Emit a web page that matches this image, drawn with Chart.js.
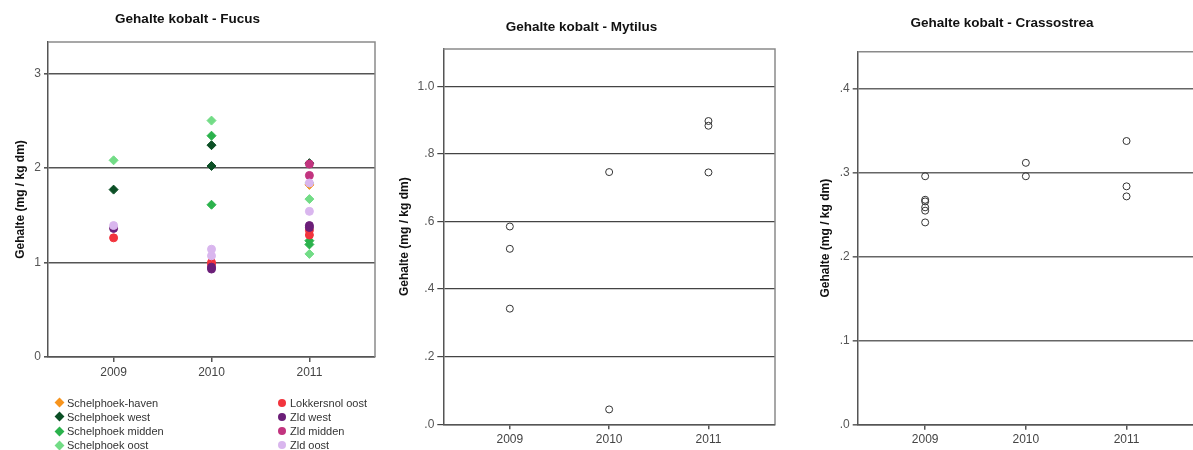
<!DOCTYPE html>
<html>
<head>
<meta charset="utf-8">
<script src="https://cdn.jsdelivr.net/npm/chart.js@4.4.1/dist/chart.umd.min.js"></script>
<style>
  body { margin: 0; width: 1193px; height: 450px; overflow: hidden; background: #fff; position: relative;
         font-family: "Liberation Sans", Arial, sans-serif; }
  canvas { position: absolute; top: 0; }
  #fucusChart { left: 0; }
  #mytilusChart { left: 388px; }
  #crassChart { left: 810px; }
  .lg-text { position: absolute; font-size: 11px; line-height: 14px; color: #333; white-space: nowrap; }
  .lg-mark { position: absolute; }
</style>
</head>
<body>
<canvas id="fucusChart" width="392" height="450"></canvas>
<canvas id="mytilusChart" width="400" height="450"></canvas>
<canvas id="crassChart" width="396" height="450"></canvas>
<div id="fucusLegend"></div>

<script>
// jaren (x-as)
const years = [2009, 2010, 2011];

// Fucus: waarden per jaar, per locatie
const fucusSeries = ["Schelphoek-haven", "Schelphoek west", "Schelphoek midden", "Schelphoek oost",
                     "Lokkersnol oost", "Zld west", "Zld midden", "Zld oost"];
const schelphoekHaven  = [[], [], [1.82]];
const schelphoekWest   = [[1.77], [2.24, 2.02], [2.05]];
const schelphoekMidden = [[], [2.34, 1.61], [1.23, 1.19]];
const schelphoekOost   = [[2.08], [2.50], [1.84, 1.67, 1.09]];
const lokkersnolOost   = [[1.26], [1.00, 0.98], [1.34, 1.29]];
const zldWest          = [[1.36], [0.95, 0.93], [1.39, 1.37]];
const zldMidden        = [[], [], [2.04, 1.92]];
const zldOost          = [[1.39], [1.14, 1.07], [1.84, 1.54]];
const fucusValues = [schelphoekHaven, schelphoekWest, schelphoekMidden, schelphoekOost,
                     lokkersnolOost, zldWest, zldMidden, zldOost];
const fucusTicks = [0, 1, 2, 3];
const fucusTickLabels = ["0", "1", "2", "3"];

// Mytilus
const mytilusValues = [[0.585, 0.519, 0.342], [0.746, 0.044], [0.897, 0.883, 0.745]];
const mytilusTicks = [0, 0.2, 0.4, 0.6, 0.8, 1.0];
const mytilusTickLabels = [".0", ".2", ".4", ".6", ".8", "1.0"];

// Crassostrea
const crassValues = [[0.296, 0.268, 0.266, 0.259, 0.255, 0.241], [0.312, 0.296], [0.338, 0.284, 0.272]];
const crassTicks = [0, 0.1, 0.2, 0.3, 0.4];
const crassTickLabels = [".0", ".1", ".2", ".3", ".4"];

// stijl
const fucusColors = ["#f7941d", "#0b4f25", "#2bb24c", "#72dc86", "#f2343d", "#6b1e78", "#c2347f", "#d9b6ee"];
const fucusShapes = ["rectRot", "rectRot", "rectRot", "rectRot", "circle", "circle", "circle", "circle"];
const FONT = "'Liberation Sans', Arial, sans-serif";

function toPoints(perYear) {
  const pts = [];
  perYear.forEach((vals, i) => vals.forEach(v => pts.push({ x: years[i], y: v })));
  return pts;
}

const framePlugin = {
  id: "frame",
  beforeDatasetsDraw(chart, args, opts) {
    const a = chart.chartArea, ctx = chart.ctx;
    ctx.save();
    ctx.strokeStyle = opts.color || "#999";
    ctx.lineWidth = 1.5;
    ctx.beginPath();
    ctx.moveTo(a.left, a.top);
    ctx.lineTo(a.right, a.top);
    ctx.lineTo(a.right, a.bottom);
    ctx.stroke();
    ctx.restore();
  }
};

function makeChart(id, datasets, s) {
  return new Chart(document.getElementById(id), {
    type: "scatter",
    data: { datasets: datasets },
    plugins: [framePlugin],
    options: {
      responsive: false,
      animation: false,
      devicePixelRatio: 1,
      layout: { padding: { left: 0, right: s.padRight, top: 0, bottom: s.padBottom } },
      plugins: {
        legend: { display: false },
        tooltip: { enabled: false },
        frame: { color: "#8a8a8a" },
        title: {
          display: true,
          text: s.title,
          color: "#111",
          font: { family: FONT, size: 13.5, weight: "bold" },
          padding: { top: s.titleTop, bottom: s.titleBottom }
        }
      },
      scales: {
        x: {
          type: "linear",
          min: 2008.33,
          max: 2011.67,
          afterBuildTicks: sc => { sc.ticks = years.map(v => ({ value: v })); },
          afterFit: sc => { sc.height = s.xHeight; },
          ticks: { color: "#444", font: { family: FONT, size: 12 }, padding: 3, callback: v => String(v) },
          grid: { drawOnChartArea: false, drawTicks: true, tickLength: 5, color: "#555", lineWidth: 1.5 },
          border: { display: true, color: "#555", width: 1.5 }
        },
        y: {
          min: 0,
          max: s.yMax,
          afterBuildTicks: sc => { sc.ticks = s.yTicks.map(v => ({ value: v })); },
          afterFit: sc => { sc.width = s.yWidth; },
          ticks: { color: "#555", font: { family: FONT, size: 12 }, padding: 3,
                   callback: (v, i) => s.yLabels[i] },
          grid: { color: s.gridColor, lineWidth: s.gridWidth, drawTicks: true, tickLength: s.tickLen },
          border: { display: true, color: "#555", width: 1.5 },
          title: {
            display: true,
            text: "Gehalte (mg / kg dm)",
            color: "#111",
            font: { family: FONT, size: 12, weight: "bold" },
            padding: { top: s.yTitlePad, bottom: 0 }
          }
        }
      }
    }
  });
}

// Fucus
const fucusDatasets = fucusSeries.map((name, i) => ({
  label: name,
  data: toPoints(fucusValues[i]),
  pointStyle: fucusShapes[i],
  pointRadius: fucusShapes[i] === "rectRot" ? 4.5 : 4,
  pointBackgroundColor: fucusColors[i],
  pointBorderColor: fucusColors[i],
  pointBorderWidth: 1,
  order: fucusSeries.length - 1 - i
}));
makeChart("fucusChart", fucusDatasets, {
  title: "Gehalte kobalt - Fucus", titleTop: 10.9, titleBottom: 14.9,
  padRight: 17, padBottom: 68, xHeight: 25,
  yMax: 3.331, yTicks: fucusTicks, yLabels: fucusTickLabels, yWidth: 48, yTitlePad: 13.8,
  tickLen: 4, gridColor: "#555", gridWidth: 1.6
});

function openCircles(values) {
  return [{
    label: "Gehalte",
    data: toPoints(values),
    pointStyle: "circle",
    pointRadius: 3.5,
    pointBackgroundColor: "rgba(255,255,255,0)",
    pointBorderColor: "#333",
    pointBorderWidth: 1
  }];
}

makeChart("mytilusChart", openCircles(mytilusValues), {
  title: "Gehalte kobalt - Mytilus", titleTop: 19.2, titleBottom: 13.6,
  padRight: 13, padBottom: 0, xHeight: 25.7,
  yMax: 1.11, yTicks: mytilusTicks, yLabels: mytilusTickLabels, yWidth: 55.3, yTitlePad: 9.8,
  tickLen: 6, gridColor: "#444", gridWidth: 1.2
});

makeChart("crassChart", openCircles(crassValues), {
  title: "Gehalte kobalt - Crassostrea", titleTop: 15.6, titleBottom: 19.9,
  padRight: 12, padBottom: 0, xHeight: 25.3,
  yMax: 0.4444, yTicks: crassTicks, yLabels: crassTickLabels, yWidth: 47.7, yTitlePad: 8.5,
  tickLen: 5, gridColor: "#666", gridWidth: 1.6
});

// legenda onder Fucus, twee kolommen
const legend = document.getElementById("fucusLegend");
fucusSeries.forEach((name, i) => {
  const col = Math.floor(i / 4), row = i % 4;
  const cx = col === 0 ? 59 : 282;
  const tx = col === 0 ? 67 : 290;
  const cy = 402.7 + row * 14.2;
  const m = document.createElement("div");
  m.className = "lg-mark";
  if (fucusShapes[i] === "rectRot") {
    m.style.cssText = `left:${cx - 3.5}px;top:${cy - 3.5}px;width:7px;height:7px;background:${fucusColors[i]};transform:rotate(45deg);`;
  } else {
    m.style.cssText = `left:${cx - 4}px;top:${cy - 4}px;width:8px;height:8px;border-radius:50%;background:${fucusColors[i]};`;
  }
  const t = document.createElement("div");
  t.className = "lg-text";
  t.style.left = tx + "px";
  t.style.top = (cy - 7) + "px";
  t.textContent = name;
  legend.appendChild(m);
  legend.appendChild(t);
});
</script>
</body>
</html>
